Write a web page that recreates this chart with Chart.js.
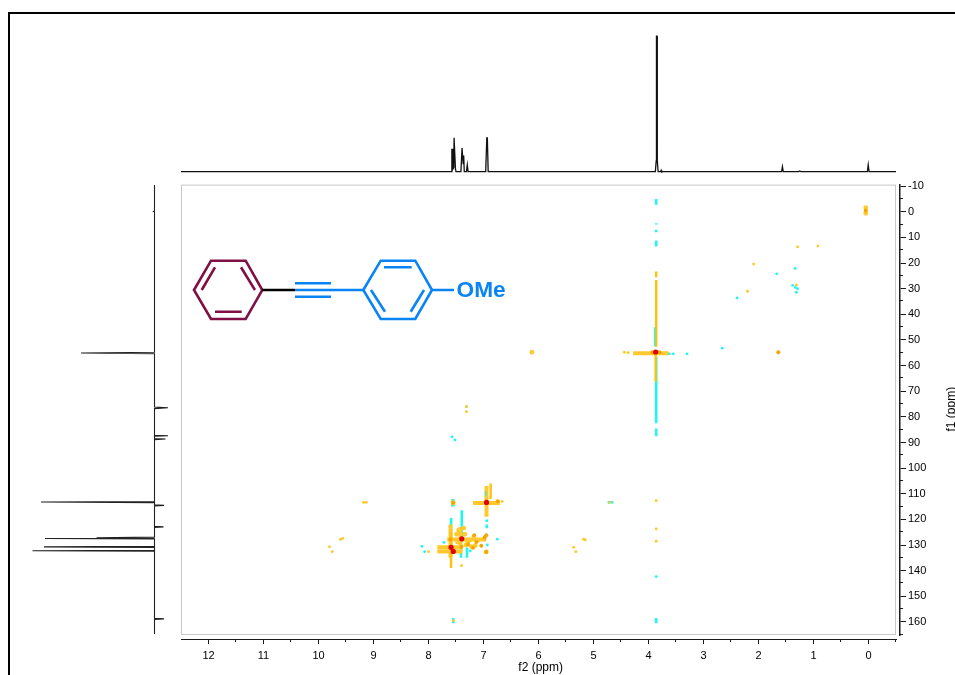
<!DOCTYPE html>
<html>
<head>
<meta charset="utf-8">
<title>HSQC / HMBC spectrum</title>
<script src="https://cdn.jsdelivr.net/npm/chart.js@4"></script>
<style>
    html, body { margin: 0; padding: 0; background: #fff; overflow: hidden; }
    #page { position: relative; width: 955px; height: 675px; overflow: hidden; }
    #frame { position: absolute; left: 8px; top: 12px; width: 960px; height: 700px; border: 2px solid #000; box-sizing: border-box; }
    canvas { position: absolute; }
    #molecule { position: absolute; left: 0; top: 0; }
</style>
</head>
<body>
<div id="page">
    <div id="frame"></div>
    <div style="position:absolute;left:181px;top:20px;width:715px;height:153px"><canvas id="protonChart"></canvas></div>
    <div style="position:absolute;left:20px;top:185px;width:150px;height:450px"><canvas id="carbonChart"></canvas></div>
    <!-- 9px taller than the plot box: Chart.js keeps that room above the first y label -->
    <div style="position:absolute;left:181px;top:176px;width:774px;height:499px"><canvas id="mapChart"></canvas></div>
    <svg id="molecule" width="955" height="675" fill="none" stroke-width="2.6">
        <g stroke="#7f0f45">
            <path d="M194 290L211 260.7H245.7L262.3 290L245.7 319H211Z"/>
            <path d="M201.7 290L215 267.3M241 267.3L255 290M215 311.7H241.7"/>
        </g>
        <path d="M262.3 290H295" stroke="#000"/>
        <g stroke="#0a84f5">
            <path d="M295 283.3H331M295 290H363.3M295 296.7H331"/>
            <path d="M363.3 290L380.7 260.7H415.3L432 290L415.3 319H380.7Z"/>
            <path d="M384 267.3H411.7M424 290L410.7 311.7M371 290L385 311.7M432 290H454"/>
        </g>
        <text x="456.5" y="296.8" fill="#0a84f5" font-family="Liberation Sans" font-weight="700" font-size="22.7">OMe</text>
    </svg>
</div>

<script>
// axis ticks
const f2Ticks = [12, 11, 10, 9, 8, 7, 6, 5, 4, 3, 2, 1, 0];
const f2Minor = [12.5, 11.5, 10.5, 9.5, 8.5, 7.5, 6.5, 5.5, 4.5, 3.5, 2.5, 1.5, 0.5, -0.5];
const f1Ticks = [-10, 0, 10, 20, 30, 40, 50, 60, 70, 80, 90, 100, 110, 120, 130, 140, 150, 160];
const f1Minor = [-5, 5, 15, 25, 35, 45, 55, 65, 75, 85, 95, 105, 115, 125, 135, 145, 155, 165];

// 1H trace along the top
const protonPpm = [12.5, 7.59, 7.575, 7.56, 7.555, 7.54, 7.535, 7.52, 7.51, 7.5, 7.41, 7.39, 7.38, 7.37, 7.36, 7.35, 7.31, 7.295, 7.28, 6.96, 6.94, 6.93, 6.915, 3.875, 3.86, 3.855, 3.845, 3.84, 3.825, 3.78, 3.77, 3.76, 1.58, 1.565, 1.55, 1.27, 1.25, 1.23, 0.02, 0.005, -0.01, -0.5];
const protonInt = [0, 0, 16.5, 16.5, 2, 3, 25, 25, 2, 0, 0, 17.5, 17.5, 6, 12, 0, 0, 5, 0, 0, 25, 25, 0, 0, 8, 100, 100, 8, 0, 0, 1, 0, 0, 3.7, 0, 0, 0.5, 0, 0, 5, 0, 0];

// 13C trace down the left side (positive goes left, folded peaks go right)
const carbonPpm = [-10.3, -0.2, 0, 0.2, 55, 55.3, 55.6, 76.4, 76.7, 77, 87.4, 87.6, 87.8, 88.7, 88.9, 89.1, 113.3, 113.5, 113.7, 114.6, 114.8, 115, 123, 123.2, 123.4, 127.2, 127.4, 127.55, 127.7, 127.9, 130.8, 131, 131.2, 132.3, 132.5, 132.7, 158.9, 159.1, 159.3, 165];
const carbonInt = [0, 0, 1, 0, 0, 73.5, 0, 0, -13.5, 0, 0, -13.5, 0, 0, -11, 0, 0, 113.5, 0, 0, -9.5, 0, 0, -9, 0, 0, 58, 0, 109.5, 0, 0, 110.5, 0, 0, 122, 0, 0, -9.5, 0, 0];

// 2D map: vertical and horizontal ridges, null breaks the line
const cyanRidgeF2 = [3.86, 3.86, null, 3.86, 3.86, null, 3.86, 3.86, null, 3.86, 3.86, null, 3.86, 3.86, null, 3.86, 3.86, null, 3.99, 3.6, null, 7.395, 7.395, null, 7.59, 7.59, null, 7.41, 7.41, null, 6.94, 6.94, null, 6.94, 6.94, null, 7.55, 7.55, null, 3.86, 3.86, null, 7.55, 7.55, null, 7.3, 7.3];
const cyanRidgeF1 = [-5, -2.7, null, 4.5, 5, null, 7, 8, null, 11.2, 13.5, null, 56.5, 82.5, null, 84.5, 87.6, null, 55.4, 55.4, null, 116.4, 127.5, null, 119.5, 130, null, 128, 135, null, 120, 121, null, 122, 123.5, null, 158.5, 160.5, null, 158.5, 160.5, null, 112, 115, null, 131, 135];
const goldThinF2 = [3.86, 3.86, null, 3.86, 3.86, null, 6.87, 6.87, null, 7.59, 7.59, null, 3.86, 3.86, null, 3.87, 3.87];
const goldThinF1 = [23.3, 25.5, null, 26.6, 43, null, 106, 112, null, 125, 139, null, 43, 52.7, null, 55.8, 66.3];
const goldWideF2 = [4.28, 3.64, null, 7.19, 6.7, null, 6.945, 6.945, null, 7.84, 7.38, null, 7.84, 7.38, null, 7.66, 6.95, null, 7.6, 7.6, null, 7.42, 7.42];
const goldWideF1 = [55.2, 55.2, null, 113.6, 113.6, null, 107, 119, null, 130.9, 130.9, null, 132.5, 132.5, null, 127.8, 127.8, null, 122, 135, null, 123, 130];
const greenRidgeF2 = [3.885, 3.885, null, 6.96, 6.96, null, 7.31, 7.31, null, 7.57, 7.57];
const greenRidgeF1 = [45, 52.5, null, 109, 111, null, 75.5, 76.5, null, 112, 115];

// 2D map: single spots per contour colour
const cyanSpotF2 = [2.66, 1.335, 1.67, 1.38, 1.33, 1.29, 1.31, 2.39, 7.57, 7.52, 3.86, 4.72, 4.66, 8.12, 8.07, 6.75, 7.02, 7.24, 7.72, 3.3, 3.55, 6.93];
const cyanSpotF1 = [53.2, 22.1, 24.2, 28.7, 29.5, 30, 31.4, 33.6, 87.8, 89, 142.3, 113.4, 113.4, 130.5, 132.6, 127.7, 127.8, 132.3, 129, 55.4, 55.4, 130];
const goldSpotF2 = [0.92, 1.29, 2.09, 2.2, 1.31, 9.18, 9.13, 9.6, 9.56, 9.8, 9.75, 5.18, 5.15, 5.36, 5.32, 4.7, 4.44, 4.37, 3.86, 3.86, 3.86, 7.55, 7.31, 7.31, 8.0, 7.4, 6.66];
const goldSpotF1 = [13.4, 13.7, 20.4, 31, 28.5, 113.4, 113.4, 127.8, 127.4, 130.7, 132.6, 127.7, 128, 130.9, 132.6, 113.4, 54.8, 55, 112.7, 123.7, 128.5, 159.5, 76, 78, 132.6, 138, 113];
const goldBlobF2 = [7.25, 7.18, 7.34, 7.47, 7.29, 7.1, 7.49, 7.32, 7.55, 6.95, 6.12, 0.05, 0.05, 7.22, 7.15, 7.45, 7.36];
const goldBlobF1 = [128.1, 127.3, 125.8, 128.9, 128.9, 128.1, 125.8, 130, 113.5, 132.7, 54.8, -1.6, 0.6, 130.6, 130.2, 124.2, 123.4];
const orangeSpotF2 = [6.74, 7.55, 6.95, 7.17, 7.19, 7.28, 7.13, 7.04, 6.98, 6.95, 7.6, 7.4, 3.8, 3.93, 1.64, 0.05];
const orangeSpotF1 = [112.9, 113.5, 132.7, 126.2, 131.1, 129.8, 128.8, 130.3, 127.1, 126.2, 127.8, 130.7, 54.8, 54.8, 54.8, -0.5];
const redSpotF2 = [3.87, 6.945, 7.395, 7.59, 7.55];
const redSpotF1 = [54.7, 113.4, 127.6, 130.9, 132.5];

const TEXT_FONT = '"Liberation Sans", Arial, sans-serif';
const LINE_BLACK = '#1a1a1a';

function toPoints(xs, ys) {
    return xs.map((x, i) => ({ x: x, y: ys[i] }));
}

function ridge(xs, ys, color, width) {
    return { data: toPoints(xs, ys), showLine: true, spanGaps: false, borderColor: color, borderWidth: width, pointRadius: 0 };
}

function spots(xs, ys, color, radius) {
    return { data: toPoints(xs, ys), showLine: false, pointStyle: 'circle', pointRadius: radius, pointBorderWidth: 0, backgroundColor: color };
}

// Small plugin for the things the scales don't do: grey box, minor ticks, rotated f1 title
const mapDecor = {
    id: 'mapDecor',
    beforeDatasetsDraw(chart) {
        const area = chart.chartArea;
        const ctx = chart.ctx;
        ctx.save();
        ctx.strokeStyle = '#c8c8c8';
        ctx.lineWidth = 1;
        ctx.strokeRect(area.left + 0.5, area.top + 0.5, area.width - 1, area.height - 1);
        ctx.restore();
    },
    afterDraw(chart) {
        const ctx = chart.ctx;
        const xs = chart.scales.x;
        const ys = chart.scales.y;
        ctx.save();
        ctx.strokeStyle = LINE_BLACK;
        ctx.lineWidth = 1;
        ctx.beginPath();
        f2Minor.forEach(v => {
            const px = Math.round(xs.getPixelForValue(v)) - 0.5;
            ctx.moveTo(px, xs.top);
            ctx.lineTo(px, xs.top + 3);
        });
        f1Minor.forEach(v => {
            const py = Math.round(ys.getPixelForValue(v)) - 0.5;
            ctx.moveTo(ys.left, py);
            ctx.lineTo(ys.left + 3, py);
        });
        ctx.stroke();
        ctx.fillStyle = '#000';
        ctx.font = '12px ' + TEXT_FONT;
        ctx.textAlign = 'center';
        ctx.textBaseline = 'bottom';
        // f2 title sits a little right of the axis middle
        ctx.fillText('f2 (ppm)', xs.getPixelForValue(5.96), chart.height - 1);
        // f1 title reads bottom to top here and runs off the window edge, as in the original
        ctx.translate(777, ys.getPixelForValue(77));
        ctx.rotate(-Math.PI / 2);
        ctx.fillText('f1 (ppm)', 0, 0);
        ctx.restore();
    }
};

const hiddenScale = { display: false };

new Chart(document.getElementById('protonChart'), {
    type: 'scatter',
    data: { datasets: [ridge(protonPpm, protonInt, '#111', 1.3)] },
    options: {
        responsive: true, maintainAspectRatio: false, animation: false, events: [],
        layout: { padding: 0 },
        plugins: { legend: { display: false }, tooltip: { enabled: false } },
        scales: {
            x: Object.assign({ type: 'linear', reverse: true, min: -0.5, max: 12.5 }, hiddenScale),
            y: Object.assign({ type: 'linear', min: -1, max: 112 }, hiddenScale)
        }
    }
});

new Chart(document.getElementById('carbonChart'), {
    type: 'scatter',
    data: { datasets: [ridge(carbonInt, carbonPpm, '#222', 1.1)] },
    options: {
        responsive: true, maintainAspectRatio: false, animation: false, events: [],
        layout: { padding: 0 },
        plugins: { legend: { display: false }, tooltip: { enabled: false } },
        scales: {
            x: Object.assign({ type: 'linear', reverse: true, min: -15.5, max: 134.5 }, hiddenScale),
            y: Object.assign({ type: 'linear', reverse: true, min: -10.3, max: 165.4 }, hiddenScale)
        }
    }
});

new Chart(document.getElementById('mapChart'), {
    type: 'scatter',
    data: {
        datasets: [
            spots(redSpotF2, redSpotF1, '#e00000', 2.6),
            spots(orangeSpotF2, orangeSpotF1, '#f5a500', 2),
            spots(goldSpotF2, goldSpotF1, '#ffc81e', 1.4),
            spots(goldBlobF2, goldBlobF1, '#ffcb30', 2.4),
            ridge(greenRidgeF2, greenRidgeF1, '#6fe3a0', 2),
            ridge(goldThinF2, goldThinF1, '#ffc10a', 2.4),
            ridge(goldWideF2, goldWideF1, '#ffc92e', 4),
            ridge(cyanRidgeF2, cyanRidgeF1, '#1ff5f5', 2.6),
            spots(cyanSpotF2, cyanSpotF1, '#1ff5f5', 1.4)
        ]
    },
    options: {
        responsive: true, maintainAspectRatio: false, animation: false, events: [],
        layout: { padding: 0, autoPadding: false },
        plugins: { legend: { display: false }, tooltip: { enabled: false } },
        scales: {
            x: {
                type: 'linear', position: 'bottom', weight: 1, reverse: true, min: -0.5, max: 12.5,
                afterBuildTicks: scale => { scale.ticks = f2Ticks.map(v => ({ value: v })); },
                afterFit: scale => { scale.height = 36; },
                border: { display: true, color: LINE_BLACK, width: 1 },
                grid: { drawOnChartArea: false, drawTicks: true, tickLength: 5, color: LINE_BLACK },
                ticks: { color: '#000', font: { family: TEXT_FONT, size: 11 }, maxRotation: 0, padding: 5, autoSkip: false, callback: v => String(v) }
            },
            y: {
                type: 'linear', position: 'right', weight: 1, reverse: true, min: -10.6, max: 165.1,
                afterBuildTicks: scale => { scale.ticks = f1Ticks.map(v => ({ value: v })); },
                afterFit: scale => { scale.width = 55; },
                border: { display: true, color: LINE_BLACK, width: 1.5 },
                grid: { drawOnChartArea: false, drawTicks: true, tickLength: 6, color: LINE_BLACK },
                ticks: { color: '#000', font: { family: TEXT_FONT, size: 11 }, padding: 2, autoSkip: false, callback: v => String(v) }
            },
            // empty axes only push the drawn axes away from the grey box
            xGap: {
                type: 'linear', position: 'bottom', weight: 0, min: 0, max: 1,
                ticks: { display: false }, grid: { display: false }, border: { display: false },
                afterFit: scale => { scale.height = 4; }
            },
            yGap: {
                type: 'linear', position: 'right', weight: 0, min: 0, max: 1,
                ticks: { display: false }, grid: { display: false }, border: { display: false },
                afterFit: scale => { scale.width = 4; }
            }
        }
    },
    plugins: [mapDecor]
});
</script>
</body>
</html>
